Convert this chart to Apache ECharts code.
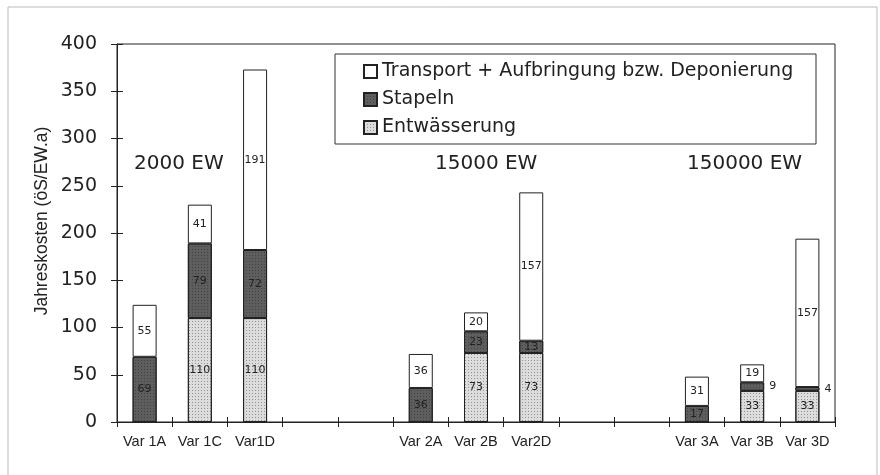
<!DOCTYPE html>
<html>
<head>
<meta charset="utf-8">
<script src="https://cdn.jsdelivr.net/npm/echarts@6/dist/echarts.min.js"></script>
<style>
  html, body { margin: 0; padding: 0; background: #fff; }
  #chart { width: 880px; height: 475px; }
</style>
</head>
<body>
<div id="chart"></div>
<script>
var categories = ['Var 1A', 'Var 1C', 'Var1D', ' ', '  ', 'Var 2A', 'Var 2B', 'Var2D', '   ', '    ', 'Var 3A', 'Var 3B', 'Var 3D'];
var entwaesserung = [0, 110, 110, null, null, 0, 73, 73, null, null, 0, 33, 33];
var stapeln = [69, 79, 72, null, null, 36, 23, 13, null, null, 17, 9, 4];
var transport = [55, 41, 191, null, null, 36, 20, 157, null, null, 31, 19, 157];
var yTicks = [0, 50, 100, 150, 200, 250, 300, 350, 400];
var groupLabels = ['2000 EW', '15000 EW', '150000 EW'];

var FONT = 'Liberation Sans';
var WIDE = 'DejaVu Sans';
var chart = echarts.init(document.getElementById('chart'));

function lbl(pos) {
    return {
        show: true,
        position: pos || 'inside',
        fontFamily: WIDE,
        fontSize: 11,
        color: '#222',
        formatter: function (p) { return p.value ? String(p.value) : ''; }
    };
}

var option = {
    backgroundColor: '#fff',
    animation: false,
    grid: { left: 117, right: 45, top: 44, bottom: 53, show: true, borderColor: '#222', borderWidth: 1 },
    legend: {
        orient: 'vertical',
        left: 358,
        top: 57,
        itemWidth: 13,
        itemHeight: 13,
        itemGap: 9,
        icon: 'rect',
        textStyle: { fontFamily: WIDE, fontSize: 19, color: '#222' },
        data: ['Transport + Aufbringung bzw. Deponierung', 'Stapeln', 'Entwässerung']
    },
    xAxis: [{
        type: 'category',
        data: categories,
        axisLine: { lineStyle: { color: '#222', width: 1 } },
        axisTick: { show: true, length: 5, lineStyle: { color: '#222' } },
        axisLabel: { fontFamily: FONT, fontSize: 14.5, color: '#222', margin: 12, interval: 0 }
    }, {
        type: 'category',
        data: categories,
        position: 'bottom',
        axisLine: { show: false },
        axisTick: { show: true, inside: true, length: 5, lineStyle: { color: '#222' } },
        axisLabel: { show: false }
    }],
    yAxis: [{
        type: 'value',
        min: yTicks[0],
        max: yTicks[yTicks.length - 1],
        interval: 50,
        axisLine: { show: true, lineStyle: { color: '#222', width: 1 } },
        axisTick: { show: true, length: 6, lineStyle: { color: '#222' } },
        axisLabel: { fontFamily: WIDE, fontSize: 19, color: '#222', margin: 20 },
        splitLine: { show: false }
    }, {
        type: 'value',
        position: 'left',
        min: yTicks[0],
        max: yTicks[yTicks.length - 1],
        interval: 50,
        axisLine: { show: false },
        axisTick: { show: true, inside: true, length: 6, lineStyle: { color: '#222' } },
        axisLabel: { show: false },
        splitLine: { show: false }
    }],
    series: [{
        name: 'Entwässerung',
        type: 'bar',
        stack: 'k',
        barWidth: 24,
        data: entwaesserung,
        itemStyle: {
            color: '#dcdcdc', borderColor: '#222', borderWidth: 1,
            decal: { symbol: 'rect', symbolSize: 1, dashArrayX: [1, 2], dashArrayY: [1, 2], color: 'rgba(60,60,60,0.45)' }
        },
        label: lbl()
    }, {
        name: 'Stapeln',
        type: 'bar',
        stack: 'k',
        data: stapeln.map(function (v, i) {
            if (v !== null && v < 12 && entwaesserung[i]) return { value: v, label: lbl('right') };
            return v;
        }),
        itemStyle: {
            color: '#5e5e5e', borderColor: '#222', borderWidth: 1,
            decal: { symbol: 'rect', symbolSize: 1, dashArrayX: [1, 2], dashArrayY: [1, 2], color: 'rgba(40,40,40,0.5)' }
        },
        label: lbl()
    }, {
        name: 'Transport + Aufbringung bzw. Deponierung',
        type: 'bar',
        stack: 'k',
        data: transport,
        itemStyle: { color: '#fff', borderColor: '#222', borderWidth: 1 },
        label: lbl()
    }],
    graphic: [
        { type: 'rect', shape: { x: 8, y: 7, width: 869, height: 480 }, style: { fill: null, stroke: '#bbb', lineWidth: 1 }, silent: true },
        { type: 'rect', shape: { x: 335, y: 54, width: 481, height: 90 }, style: { fill: null, stroke: '#333', lineWidth: 1 }, silent: true },
        { type: 'text', x: 42, y: 221, rotation: Math.PI / 2,
          style: { text: 'Jahreskosten (öS/EW.a)', fontFamily: FONT, fontSize: 17.5, fill: '#222', align: 'center', verticalAlign: 'middle' } },
        { type: 'text', left: 134, top: 154, style: { text: groupLabels[0], fontFamily: WIDE, fontSize: 20, fill: '#222' } },
        { type: 'text', left: 435, top: 154, style: { text: groupLabels[1], fontFamily: WIDE, fontSize: 20, fill: '#222' } },
        { type: 'text', left: 687, top: 154, style: { text: groupLabels[2], fontFamily: WIDE, fontSize: 20, fill: '#222' } }
    ]
};
chart.setOption(option);
</script>
</body>
</html>
